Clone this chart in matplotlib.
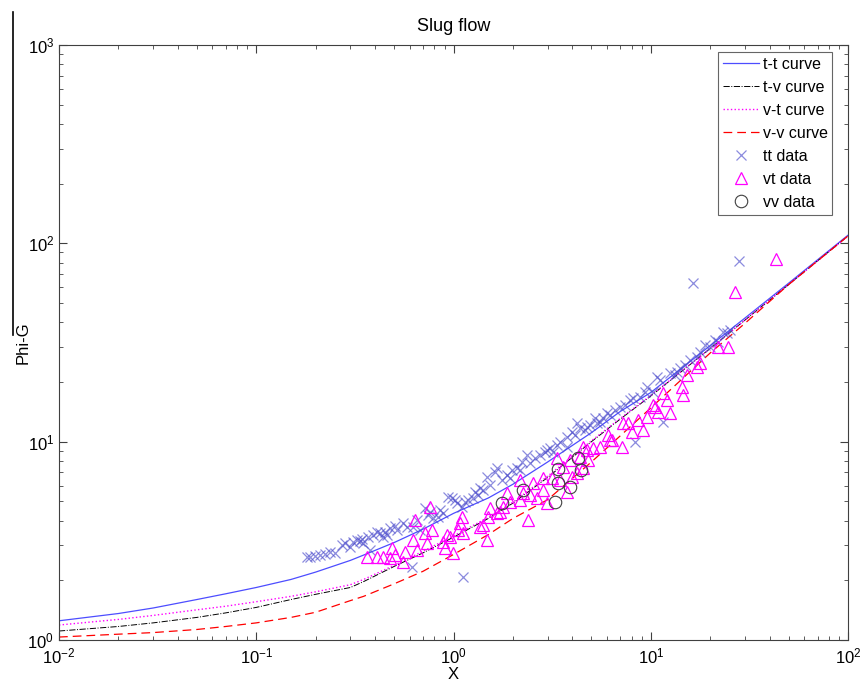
import numpy as np
import matplotlib
matplotlib.use("Agg")
import matplotlib.pyplot as plt
from matplotlib.lines import Line2D

plt.rcParams['font.family'] = ['Liberation Sans', 'DejaVu Sans']
plt.rcParams['mathtext.default'] = 'regular'

# correlation curves
curve_x = [0.01, 0.02, 0.03, 0.05, 0.07, 0.1, 0.15, 0.2, 0.3, 0.35, 0.5, 0.7,
           1, 1.5, 2, 3, 5, 7, 10, 20, 30, 50, 100]
tt_curve = [1.25, 1.36, 1.45, 1.6, 1.71, 1.84, 2.02, 2.2, 2.52, 2.68, 3.1, 3.62,
            4.35, 5.2, 6.1, 7.9, 11.1, 14.2, 17.7, 30.5, 42, 63, 110]
tv_curve = [1.11, 1.17, 1.22, 1.3, 1.37, 1.46, 1.6, 1.7, 1.84, 1.97, 2.35, 2.75,
            3.3, 4.1, 4.9, 6.6, 10.0, 13.0, 17.0, 29.5, 41, 62, 109]
vt_curve = [1.19, 1.27, 1.33, 1.42, 1.48, 1.56, 1.66, 1.75, 1.9, 2.02, 2.38, 2.8,
            3.35, 4.15, 4.95, 6.7, 10.1, 13.1, 17.1, 29.5, 41, 62, 109]
vv_curve = [1.035, 1.07, 1.09, 1.13, 1.17, 1.22, 1.3, 1.38, 1.58, 1.66, 1.92, 2.22,
            2.7, 3.4, 4.1, 5.1, 7.9, 10.7, 14.8, 28, 39.5, 62, 109]

tt_x = [0.181, 0.187, 0.199, 0.210, 0.223, 0.237, 0.251, 0.272, 0.282, 0.299,
        0.309, 0.324, 0.336, 0.344, 0.348, 0.368, 0.377, 0.391, 0.410, 0.424,
        0.439, 0.449, 0.460, 0.477, 0.505, 0.517, 0.555, 0.581, 0.616, 0.623,
        0.653, 0.676, 0.717, 0.742, 0.760, 0.787, 0.834, 0.854, 0.885, 0.938,
        0.983, 1.018, 1.04, 1.104, 1.117, 1.144, 1.184, 1.256, 1.285, 1.331,
        1.363, 1.411, 1.479, 1.532, 1.623, 1.662, 1.762, 1.867, 1.934, 1.98,
        2.098, 2.173, 2.225, 2.358, 2.442, 2.589, 2.745, 2.91, 2.979, 3.085,
        3.195, 3.347, 3.466, 3.762, 3.762, 3.989, 4.13, 4.228, 4.378, 4.642,
        4.752, 4.92, 5.218, 5.341, 5.531, 5.728, 6.0, 6.215, 6.589, 6.985,
        7.404, 7.848, 8.128, 8.32, 8.82, 9.35, 9.57, 10.27, 10.76, 11.14,
        11.54, 12.52, 13.27, 13.59, 14.07, 14.92, 15.81, 16.38, 17.16, 17.78,
        18.84, 19.97, 21.17, 21.92, 23.25, 24.36, 25.23, 28.03]
tt_y = [2.62, 2.62, 2.65, 2.68, 2.72, 2.78, 2.75, 3.01, 3.09, 2.94,
        3.12, 3.19, 3.16, 3.23, 3.09, 3.31, 2.84, 3.38, 3.50, 3.46,
        3.31, 3.50, 3.38, 3.67, 3.76, 3.59, 3.89, 3.71, 2.33, 3.71,
        4.03, 3.59, 4.63, 4.27, 4.42, 4.12, 4.17, 4.52, 4.37, 5.26,
        5.20, 5.08, 4.91, 4.69, 2.08, 4.97, 5.08, 5.20, 5.58, 5.39,
        5.84, 5.71, 6.64, 6.05, 7.03, 7.37, 6.41, 6.79, 6.56, 7.20,
        7.37, 7.20, 7.90, 8.57, 7.81, 8.28, 8.57, 8.87, 9.08, 9.29,
        8.87, 9.62, 9.97, 10.56, 9.40, 11.19, 10.81, 12.43, 11.73, 11.46,
        11.86, 12.14, 13.17, 12.43, 12.57, 13.17, 13.95, 13.63, 14.45, 14.96,
        15.31, 16.23, 16.61, 9.97, 16.81, 17.81, 18.87, 17.81, 21.2, 20.47,
        12.57, 22.2, 21.7, 22.5, 23.5, 24.4, 25.8, 63.1, 26.7, 28.3,
        30.7, 30.0, 32.6, 31.8, 35.7, 35.3, 36.6, 81.5]

vt_x = [0.364, 0.410, 0.439, 0.477, 0.488, 0.505, 0.555, 0.568, 0.623, 0.638,
        0.653, 0.717, 0.734, 0.760, 0.778, 0.885, 0.906, 0.927, 0.960, 0.994,
        1.054, 1.079, 1.104, 1.117, 1.363, 1.411, 1.479, 1.496, 1.532, 1.662,
        1.721, 1.782, 1.867, 1.934, 2.173, 2.173, 2.251, 2.386, 2.442, 2.529,
        2.651, 2.843, 2.843, 2.979, 3.158, 3.347, 3.466, 3.591, 3.762, 3.897,
        3.989, 4.228, 4.378, 4.534, 4.534, 4.752, 4.808, 5.095, 5.531, 6.07,
        6.215, 6.36, 7.15, 7.23, 7.67, 8.03, 8.62, 9.135, 9.57, 10.27,
        10.51, 10.89, 11.54, 12.09, 12.52, 14.4, 14.57, 15.27, 17.16, 17.78,
        21.92, 24.64, 26.74, 43.15]
vt_y = [2.62, 2.62, 2.62, 2.59, 2.91, 2.68, 2.47, 2.78, 3.19, 4.03,
        2.84, 3.46, 3.09, 4.69, 3.59, 3.12, 2.91, 3.38, 3.31, 2.75,
        3.59, 3.89, 4.17, 3.46, 3.71, 3.80, 3.19, 4.17, 4.63, 4.37,
        4.42, 4.69, 5.51, 4.97, 6.41, 5.08, 5.51, 4.03, 5.39, 6.19,
        5.20, 5.71, 6.56, 4.91, 6.56, 8.28, 6.41, 7.45, 5.58, 8.08,
        6.64, 6.95, 8.37, 9.40, 7.37, 9.08, 8.08, 9.29, 9.40, 10.81,
        10.20, 10.20, 9.40, 12.43, 12.43, 11.19, 12.86, 11.46, 13.32, 15.31,
        14.96, 14.12, 17.61, 16.23, 13.95, 18.87, 17.20, 21.7, 23.8, 24.9,
        30.0, 30.0, 56.9, 83.4]

vv_x = [1.762, 2.251, 3.386, 3.386, 3.897, 3.27, 4.277, 4.43]
vv_y = [4.91, 5.71, 7.28, 6.19, 5.91, 4.97, 8.28, 7.20]

fig = plt.figure(figsize=(8.61, 6.87), dpi=100)
ax = fig.add_axes([0.0685, 0.0684, 0.9165, 0.8661])

ax.loglog(curve_x, tt_curve, '-', color=(0.3, 0.3, 1.0), lw=0.9, label='t-t curve')
ax.loglog(curve_x, tv_curve, '-.', color='k', lw=0.7, label='t-v curve')
ax.loglog(curve_x, vt_curve, ':', color='magenta', lw=1.0, label='v-t curve')
ax.loglog(curve_x, vv_curve, '--', color='red', lw=0.9, dashes=(7, 4), label='v-v curve')
ax.plot(tt_x, tt_y, 'x', color=(0.3, 0.3, 0.8), alpha=0.65, ms=7, mew=0.9, ls='none', label='tt data')
ax.plot(vt_x, vt_y, '^', mfc='none', mec='magenta', ms=9, mew=0.9, ls='none', label='vt data')
ax.plot(vv_x, vv_y, 'o', mfc='none', mec='#404040', ms=9, mew=0.8, ls='none', label='vv data')

ax.set_xlim(1e-2, 1e2)
ax.set_ylim(1e0, 1e3)
ax.set_title('Slug flow', fontsize=13, pad=10)
ax.set_xlabel('X', fontsize=12, labelpad=0)
ax.set_ylabel('Phi-G', fontsize=12, labelpad=-2)

ax.tick_params(which='both', direction='in', top=True, right=True, colors='#404040',
               labelcolor='black', labelsize=12)
ax.tick_params(axis='x', which='major', pad=5)
ax.tick_params(which='major', length=6)
ax.tick_params(which='minor', length=3)
for s in ax.spines.values():
    s.set_color('#404040')
    s.set_linewidth(0.8)

leg = ax.legend(loc='upper right', bbox_to_anchor=(0.98, 0.988), borderaxespad=0,
                fontsize=11.5, handlelength=2.3, frameon=True, fancybox=False,
                labelspacing=0.5, handletextpad=0.2, borderpad=0.3)
leg.get_frame().set_edgecolor('#404040')
leg.get_frame().set_linewidth(0.8)

# stray vertical rule at the top left of the figure
fig.add_artist(Line2D([12.5 / 861, 12.5 / 861], [1 - 12 / 687, 1 - 335 / 687],
                      color='black', lw=1.2))

fig.savefig('out.png', dpi=100)
